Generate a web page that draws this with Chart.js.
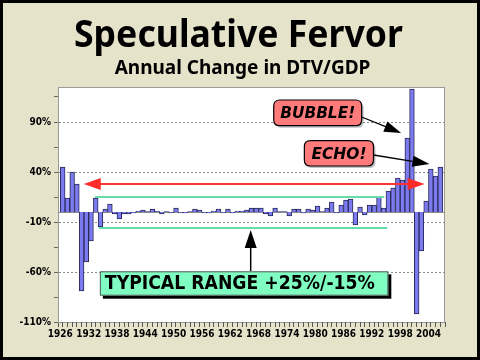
<!DOCTYPE html>
<html>
<head>
<meta charset="utf-8">
<title>Speculative Fervor</title>
<script src="https://cdn.jsdelivr.net/npm/chart.js@4/dist/chart.umd.min.js"></script>
<style>
  html, body { margin: 0; padding: 0; background: #e5e3ca; }
  #chart { display: block; }
</style>
</head>
<body>
<canvas id="chart" width="480" height="360"></canvas>
<script>
const YEARS = [
  1926, 1927, 1928, 1929, 1930, 1931, 1932, 1933, 1934, 1935,
  1936, 1937, 1938, 1939, 1940, 1941, 1942, 1943, 1944, 1945,
  1946, 1947, 1948, 1949, 1950, 1951, 1952, 1953, 1954, 1955,
  1956, 1957, 1958, 1959, 1960, 1961, 1962, 1963, 1964, 1965,
  1966, 1967, 1968, 1969, 1970, 1971, 1972, 1973, 1974, 1975,
  1976, 1977, 1978, 1979, 1980, 1981, 1982, 1983, 1984, 1985,
  1986, 1987, 1988, 1989, 1990, 1991, 1992, 1993, 1994, 1995,
  1996, 1997, 1998, 1999, 2000, 2001, 2002, 2003, 2004, 2005,
  2006,
];

// annual change in DTV/GDP, percent
const CHANGE = [
  45, 14, 40, 28, -79, -50, -29, 14, -15, 3,
  8, -2, -7, -2, -2, -1, 1, 2, 0.5, 3,
  1, -2, 0.5, -1, 4, -1, -1, 0.5, 3, 2,
  -1, -1, 1, 3, -1, 3, -1, 1, 1, 2,
  4, 4, 4, -2, -4, 4, 0.5, 0.5, -4, 3,
  3, -1, 3, 2, 6, 0.5, 4, 10, -1, 7,
  12, 13, -13, 5, -3, 7, 7, 15, 4, 21,
  24, 34, 32, 74, 123, -102, -39, 11, 43, 36,
  45,
];

const X_LABEL_YEARS = [1926, 1932, 1938, 1944, 1950, 1956, 1962, 1968, 1974, 1980, 1986, 1992, 1998, 2004];
const Y_TICKS = [-110, -85, -60, -35, -10, 15, 40, 65, 90, 115];
const Y_LABELS = [-110, -60, -10, 40, 90];
const Y_GRID = [-60, -10, 40, 90];

const TITLE = "Speculative Fervor";
const SUBTITLE = "Annual Change in DTV/GDP";

const BG_COLOR = "#e5e3ca";
const BAR_COLOR = "#7b7bef";
const BAR_EDGE = "#2a2a5a";
const TITLE_FONT = "'Noto Sans', 'DejaVu Sans', sans-serif";
const FONT_FAMILY = "'DejaVu Sans', 'Liberation Sans', sans-serif";
const TICK_FONT = "'DejaVu Sans Condensed', 'Liberation Sans', sans-serif";

const toPoint = (year, value) => ({ x: year + 0.5, y: value });

const arrowHead = (ctx, x1, y1, x2, y2, len, half) => {
  const ang = Math.atan2(y2 - y1, x2 - x1);
  ctx.beginPath();
  ctx.moveTo(x2, y2);
  ctx.lineTo(x2 - len * Math.cos(ang) + half * Math.sin(ang), y2 - len * Math.sin(ang) - half * Math.cos(ang));
  ctx.lineTo(x2 - len * Math.cos(ang) - half * Math.sin(ang), y2 - len * Math.sin(ang) + half * Math.cos(ang));
  ctx.closePath();
  ctx.fill();
};

const roundRect = (ctx, x, y, w, h, r) => {
  ctx.beginPath();
  ctx.moveTo(x + r, y);
  ctx.lineTo(x + w - r, y);
  ctx.quadraticCurveTo(x + w, y, x + w, y + r);
  ctx.lineTo(x + w, y + h - r);
  ctx.quadraticCurveTo(x + w, y + h, x + w - r, y + h);
  ctx.lineTo(x + r, y + h);
  ctx.quadraticCurveTo(x, y + h, x, y + h - r);
  ctx.lineTo(x, y + r);
  ctx.quadraticCurveTo(x, y, x + r, y);
  ctx.closePath();
};

const backdrop = {
  id: "backdrop",
  beforeDraw(chart) {
    const { ctx, chartArea: a } = chart;
    ctx.save();
    ctx.fillStyle = BG_COLOR;
    ctx.fillRect(0, 0, chart.width, chart.height);
    ctx.fillStyle = "#ffffff";
    ctx.fillRect(a.left, a.top, a.right - a.left, a.bottom - a.top);
    ctx.strokeStyle = "#9a9a9a";
    ctx.lineWidth = 1;
    ctx.strokeRect(a.left + 0.5, a.top + 0.5, a.right - a.left - 1, a.bottom - a.top);

    // titles
    ctx.fillStyle = "#000";
    ctx.textAlign = "center";
    ctx.textBaseline = "alphabetic";
    ctx.font = "bold 38px " + TITLE_FONT;
    ctx.fillText(TITLE, 238.5, 47, 329);
    ctx.font = "bold 19px " + TITLE_FONT;
    ctx.fillText(SUBTITLE, 242.5, 74, 259);
    ctx.restore();
  },
  beforeDatasetsDraw(chart) {
    const { ctx, chartArea: a, scales } = chart;
    const y0 = Math.round(scales.y.getPixelForValue(0)) + 0.5;
    ctx.save();
    ctx.strokeStyle = "#8a8a8a";
    ctx.lineWidth = 1;
    ctx.beginPath();
    ctx.moveTo(a.left, y0);
    ctx.lineTo(a.right, y0);
    ctx.stroke();
    ctx.restore();
  },
  afterDraw(chart) {
    const { ctx, scales } = chart;
    const px = (v) => scales.x.getPixelForValue(v);
    const py = (v) => scales.y.getPixelForValue(v);
    ctx.save();

    // typical range lines
    ctx.strokeStyle = "#66dcaa";
    ctx.lineWidth = 2;
    ctx.beginPath();
    ctx.moveTo(px(1933.33), py(15));
    ctx.lineTo(px(1994.65), py(15));
    ctx.moveTo(px(1934.16), py(-16));
    ctx.lineTo(px(1995.28), py(-16));
    ctx.stroke();

    // red double arrow
    const ry = py(28);
    const rl = px(1930.96);
    const rr = px(2003.17);
    ctx.strokeStyle = "#ff3333";
    ctx.fillStyle = "#ff2a2a";
    ctx.lineWidth = 2;
    ctx.beginPath();
    ctx.moveTo(rl + 10, ry);
    ctx.lineTo(rr - 10, ry);
    ctx.stroke();
    arrowHead(ctx, rr, ry, rl, ry, 17, 6);
    arrowHead(ctx, rl, ry, rr, ry, 17, 6);

    // black up arrow
    const ax = px(1966.33);
    ctx.strokeStyle = "#000";
    ctx.fillStyle = "#000";
    ctx.lineWidth = 1.5;
    ctx.beginPath();
    ctx.moveTo(ax, py(-59));
    ctx.lineTo(ax, py(-18) + 12);
    ctx.stroke();
    arrowHead(ctx, ax, py(-59), ax, py(-18), 18, 6);

    // typical range box
    const bx = px(1934.37);
    const bw = px(1995.49) - bx;
    const by = py(-59.3);
    const bh = py(-83.7) - by;
    ctx.fillStyle = "#000";
    ctx.fillRect(bx + 3, by + 3, bw, bh);
    ctx.fillStyle = "#80fdc0";
    ctx.fillRect(bx, by, bw, bh);
    ctx.strokeStyle = "#5a5a5a";
    ctx.lineWidth = 1;
    ctx.strokeRect(bx + 0.5, by + 0.5, bw - 1, bh - 1);
    ctx.fillStyle = "#000";
    ctx.font = "bold 19px " + FONT_FAMILY;
    ctx.textAlign = "left";
    ctx.textBaseline = "alphabetic";
    ctx.fillText("TYPICAL RANGE +25%/-15%", bx + 5, by + 17.5, 270);

    // callouts
    const callout = (text, x1, x2, yTop, yBot, fromY, tipX, tipY, textW) => {
      const cx = px(x1);
      const cw = px(x2) - cx;
      const cy = py(yTop);
      const ch = py(yBot) - cy;
      ctx.fillStyle = "rgba(0,0,0,0.25)";
      roundRect(ctx, cx + 2, cy + 2, cw, ch, 6);
      ctx.fill();
      ctx.fillStyle = "#ff7b7b";
      roundRect(ctx, cx, cy, cw, ch, 6);
      ctx.fill();
      ctx.strokeStyle = "#000";
      ctx.lineWidth = 1.2;
      ctx.stroke();
      ctx.fillStyle = "#000";
      ctx.font = "italic bold 16px " + FONT_FAMILY;
      ctx.textAlign = "center";
      ctx.textBaseline = "middle";
      ctx.fillText(text, cx + cw / 2, cy + ch / 2 + 1, textW);
      const sx = cx + cw;
      const sy = py(fromY);
      const tx = px(tipX);
      const ty = py(tipY);
      ctx.strokeStyle = "#000";
      ctx.lineWidth = 1.3;
      ctx.beginPath();
      ctx.moveTo(sx, sy);
      ctx.lineTo(tx - (tx - sx) * 0.3, ty - (ty - sy) * 0.3);
      ctx.stroke();
      arrowHead(ctx, sx, sy, tx, ty, 17, 5.5);
    };
    callout("BUBBLE!", 1971.21, 1989.84, 112, 86.3, 95, 1998.2, 79, 75);
    callout("ECHO!", 1977.7, 1992.35, 71.3, 46, 57, 2004.2, 48, 55);

    // outer frame
    ctx.strokeStyle = "#000";
    ctx.lineWidth = 3;
    ctx.strokeRect(1.5, 1.5, chart.width - 3, chart.height - 3);
    ctx.restore();
  },
};

const chart = new Chart(document.getElementById("chart"), {
  type: "bar",
  data: {
    datasets: [
      {
        data: YEARS.map((year, i) => toPoint(year, CHANGE[i])),
        backgroundColor: BAR_COLOR,
        borderColor: BAR_EDGE,
        borderWidth: 1,
        barPercentage: 1,
        categoryPercentage: 1,
      },
    ],
  },
  options: {
    responsive: false,
    animation: false,
    devicePixelRatio: 1,
    layout: { padding: { left: 0, right: 35, top: 87, bottom: 0 } },
    plugins: {
      legend: { display: false },
      tooltip: { enabled: false },
      title: { display: false },
    },
    scales: {
      x: {
        type: "linear",
        min: 1926,
        max: 2007,
        afterBuildTicks: (scale) => {
          scale.ticks = YEARS.concat([2007]).map((v) => ({ value: v }));
        },
        afterFit: (scale) => {
          scale.height = 38;
        },
        ticks: {
          autoSkip: false,
          maxRotation: 0,
          padding: 1,
          color: "#000",
          font: { family: TICK_FONT, size: 10, weight: "bold" },
          callback: (value) => (X_LABEL_YEARS.includes(value) ? String(value) : ""),
        },
        grid: {
          drawOnChartArea: false,
          drawTicks: true,
          tickLength: 5,
          color: "#555",
        },
        border: { display: false },
      },
      y: {
        min: -110,
        max: 125,
        afterBuildTicks: (scale) => {
          scale.ticks = Y_TICKS.map((v) => ({ value: v }));
        },
        afterFit: (scale) => {
          scale.width = 58;
        },
        ticks: {
          padding: 3,
          color: "#000",
          font: { family: TICK_FONT, size: 10, weight: "bold" },
          callback: (value) => (Y_LABELS.includes(value) ? value + "%" : ""),
        },
        grid: {
          tickLength: 4,
          tickColor: "#666",
          color: (ctx) => (ctx.tick && Y_GRID.includes(ctx.tick.value) ? "#8c8c8c" : "rgba(0,0,0,0)"),
        },
        border: { display: true, color: "#9a9a9a", dash: [2, 2] },
      },
    },
  },
  plugins: [backdrop],
});
</script>
</body>
</html>
